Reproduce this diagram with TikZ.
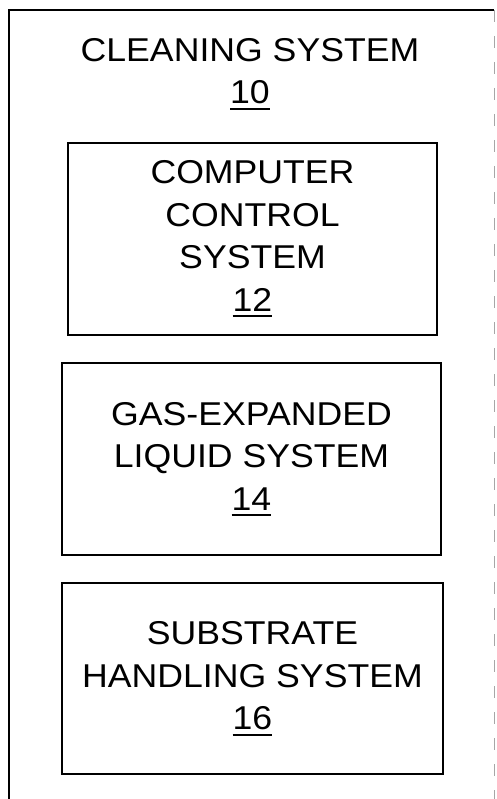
\documentclass[tikz,border=0pt]{standalone}
\usepackage{fontspec}
\setmainfont{Liberation Sans}[FakeStretch=1.08]
\newcommand\myul[1]{\setbox0\hbox{#1}\rlap{\rule[-6pt]{\wd0}{2pt}}\box0}
\begin{document}
\begin{tikzpicture}[x=1pt,y=-1pt,
  frame/.style={draw=black,line width=1.8pt},
  sysbox/.style={draw=black,line width=1.8pt,rectangle,inner sep=0pt,align=center,
    font=\fontsize{33}{42.5}\selectfont},
  titletext/.style={align=center,inner sep=0pt,font=\fontsize{33}{42.5}\selectfont}]
\useasboundingbox (0,0) rectangle (496,799);
\draw[frame] (9,806) -- (9,10) -- (494,10);
\draw[line width=0.6pt,gray!70,dash pattern=on 12pt off 14pt] (494,10) -- (494,806);
\node[titletext,anchor=base] (title) at (250,104) {CLEANING SYSTEM\\\myul{10}};
\node[sysbox,minimum width=369pt,minimum height=192pt] (ccs) at (252.5,239)
  {COMPUTER\\CONTROL\\SYSTEM\\\myul{12}};
\node[sysbox,minimum width=379pt,minimum height=192pt] (gel) at (251.5,459)
  {GAS-EXPANDED\\LIQUID SYSTEM\\\myul{14}};
\node[sysbox,minimum width=381pt,minimum height=191pt] (shs) at (252.5,678.5)
  {SUBSTRATE\\HANDLING SYSTEM\\\myul{16}};
\end{tikzpicture}
\end{document}
